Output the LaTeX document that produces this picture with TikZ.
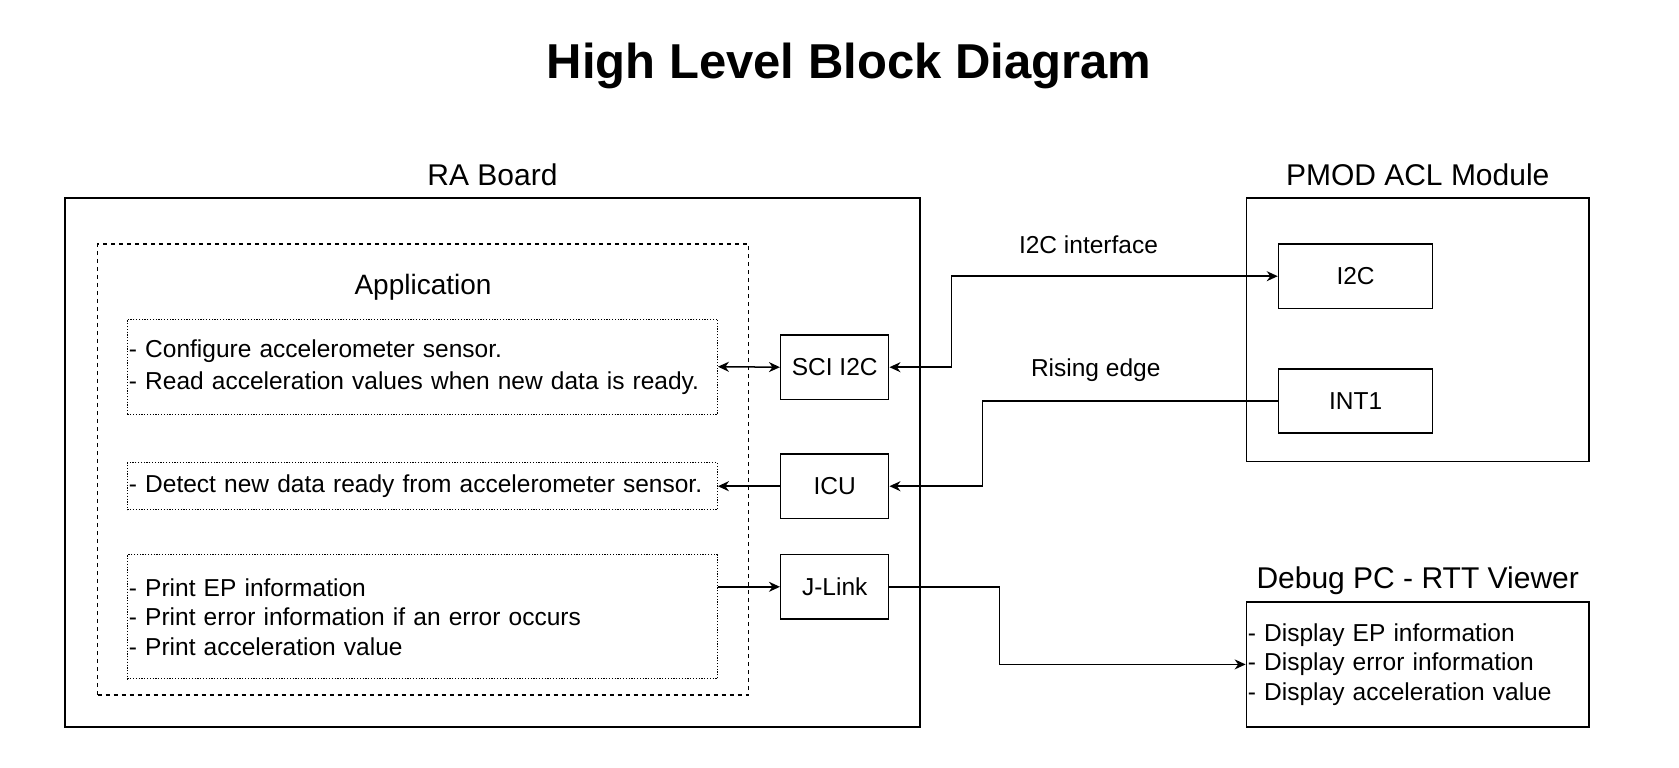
\documentclass[tikz,border=0pt]{standalone}
\usepackage{fontspec}
\setmainfont{Liberation Sans}
\usepackage{tikz}
\usetikzlibrary{arrows.meta}

\begin{document}
\begin{tikzpicture}[x=1pt,y=-1pt,>={Stealth[length=11pt,width=10pt,inset=3.5pt]},->,line width=1.5pt]
\tikzstyle{blk}=[draw=black,rectangle,minimum width=108pt,minimum height=64.4pt,font=\fontsize{24.5}{29.5}\selectfont]
\tikzstyle{task}=[draw=black,dash pattern=on 1.2pt off 1.6pt,line width=1pt,rectangle,align=left,inner xsep=1.5pt,inner ysep=0pt,text width=587pt,font=\fontsize{24.5}{29.5}\selectfont]
\tikzstyle{hdr}=[font=\fontsize{30}{36}\selectfont,text height=21.5pt,text depth=0pt]
\tikzstyle{lbl}=[font=\fontsize{24.5}{29.5}\selectfont,text height=17.5pt,text depth=0pt]
\useasboundingbox (0,0) rectangle (1679,768);
\node[font=\fontsize{49}{58}\selectfont\bfseries,text height=35pt,text depth=0pt] (ttl) at (849,61) {High Level Block Diagram};
% RA board side
\node[draw,rectangle,minimum width=855pt,minimum height=529pt] (ra) at (492.5,462.5) {};
\node[hdr,above of=ra,node distance=288pt] (ralbl) {RA Board};
\node[draw,rectangle,dash pattern=on 4pt off 4pt,minimum width=651pt,minimum height=451pt] (app) at (423,469.5) {};
\node[hdr,font=\fontsize{28}{34}\selectfont,above of=app,node distance=185.7pt] (applbl) {Application};
\node[task,minimum height=95.4pt,font=\fontsize{24.5}{32}\selectfont] (cfg) at (422.4,366.7) {- Configure accelerometer sensor.\\- Read acceleration values when new data is ready.};
\node[task,minimum height=47pt] (det) at (422.4,486.2) {- Detect new data ready from accelerometer sensor.};
\node[task,minimum height=124.2pt] (prt) at (422.4,616.8) {- Print EP information\\- Print error information if an error occurs\\- Print acceleration value};
\node[blk] (sci) at (834.7,367.2) {SCI I2C};
\node[blk,below of=sci,node distance=119pt] (icu) {ICU};
\node[blk,below of=icu,node distance=100.6pt] (jlink) {J-Link};
% sensor module
\node[draw,rectangle,minimum width=342.6pt,minimum height=263.5pt] (pmod) at (1417.7,329.8) {};
\node[hdr,above of=pmod,node distance=155.3pt] (pmodlbl) {PMOD ACL Module};
\node[blk,minimum width=154.2pt] (i2c) at (1355.6,276.2) {I2C};
\node[blk,minimum width=154.2pt,below of=i2c,node distance=124.8pt] (int1) {INT1};
% debug pc
\node[draw,rectangle,align=left,inner xsep=1.5pt,text width=339.6pt,minimum height=125.2pt,font=\fontsize{24.5}{29.5}\selectfont] (dbg) at (1417.7,664.4) {- Display EP information\\- Display error information\\- Display acceleration value};
\node[hdr,above of=dbg,node distance=86.2pt] (dbglbl) {Debug PC - RTT Viewer};
% connections
\draw[<->] (cfg.east) -- (sci.west);
\draw (icu.west) -- (det.east);
\draw (prt.east |- jlink.west) -- (jlink.west);
\draw[<->] (sci.east) -- ++(62,0) |- node[lbl,pos=0.71,yshift=31pt]{I2C interface} (i2c.west);
\draw (int1.west) -- node[lbl,pos=0.616,yshift=33pt]{Rising edge} ++(-295.5,0) |- (icu.east);
\draw (jlink.east) -- ++(110,0) |- (dbg.west);
\end{tikzpicture}
\end{document}
